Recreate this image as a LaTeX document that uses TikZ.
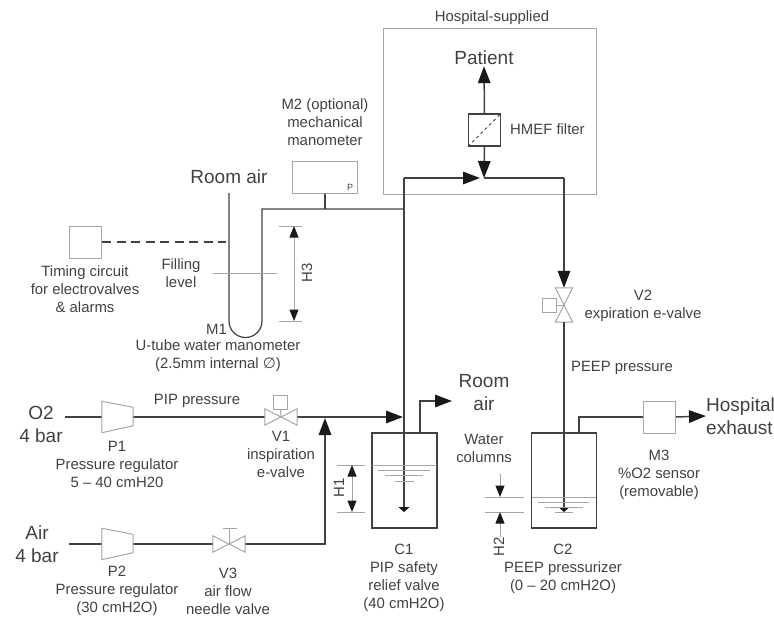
\documentclass[tikz,border=0pt]{standalone}
\usepackage{fontspec}
\usepackage{xcolor}
\usetikzlibrary{arrows.meta, positioning, calc}
\setmainfont{Liberation Sans}
\newfontfamily\symfont{DejaVu Sans}
\definecolor{pipegray}{RGB}{65,65,65}
\definecolor{partgray}{RGB}{165,165,165}
\definecolor{txtgray}{RGB}{65,65,65}
\definecolor{tipgray}{RGB}{25,25,25}

\begin{document}
\begin{tikzpicture}[x=1pt, y=-1pt, >={Stealth[inset=0pt, length=17pt, width=12.5pt, color=tipgray]},
        txt/.style={font=\fontsize{14.9}{18}\selectfont, text=txtgray, align=center, inner sep=1pt},
        bigtxt/.style={font=\fontsize{19}{22.5}\selectfont, text=pipegray, align=center, inner sep=1pt},
        pipe/.style={draw=pipegray, line width=1.5pt},
        thinpipe/.style={draw=pipegray, line width=1.2pt},
        part/.style={draw=partgray, line width=1pt, inner sep=0pt, minimum size=32pt},
        tank/.style={draw=pipegray, line width=1.2pt, inner sep=0pt, minimum width=65pt, minimum height=95pt},
        reg/.style={inner sep=0pt, minimum width=31pt, minimum height=31pt},
        valveh/.style={inner sep=0pt, minimum width=32pt, minimum height=16pt},
        valvev/.style={inner sep=0pt, minimum width=17pt, minimum height=34pt},
        level/.style={draw=partgray, line width=0.8pt},
        dim/.style={draw=partgray, line width=1pt, <->, >={Stealth[inset=0pt, length=11.5pt, width=9pt, color=tipgray]}},
        dimtip/.style={draw=partgray, line width=1pt, ->, >={Stealth[inset=0pt, length=11.5pt, width=9pt, color=tipgray]}},
        tanktip/.style={draw=pipegray, line width=1.2pt, ->, >={Stealth[inset=0pt, length=5pt, width=11pt, color=tipgray]}}]
      \useasboundingbox (0,0) rectangle (774,616);

      % hospital side
      \node[txt] (hosp) at (492,18) {Hospital-supplied};
      \draw[part] (383,28) rectangle (596,194);
      \node[bigtxt] (patient) at (484,58) {Patient};
      \node[part, draw=pipegray, line width=1.2pt] (hmef) at (484.5,130) {};
      \node[txt, anchor=west] (hmeflbl) at (509,129) {HMEF filter};
      \draw[pipegray, line width=1pt, dashed] (hmef.south west) -- (hmef.north east);
      \coordinate (jmeet) at (484,178);
      \coordinate (jleft) at (480,178);
      \coordinate (jtop) at (404,178);
      \coordinate (jright) at (564,178);

      % manometers and timing
      \node[part, minimum width=65pt] (m2) at (325,177) {};
      \node[font=\fontsize{9}{9}\selectfont, text=txtgray, inner sep=0pt] (m2p) at (350,187) {P};
      \node[txt] (m2lbl) at (325,122) {M2 (optional)\\mechanical\\manometer};
      \node[bigtxt] (roomair) at (229,177) {Room air};
      \node[part] (timing) at (85.5,242) {};
      \node[txt] (timinglbl) at (85,289) {Timing circuit\\for electrovalves\\\& alarms};
      \node[txt] (filling) at (181,273) {Filling\\level};
      \node[txt, anchor=east] (m1) at (228,329) {M1};
      \node[txt] (m1lbl) at (218,356) {U-tube water manometer\\(2.5mm internal {\symfont ∅})};
      \coordinate (u1) at (229,193);
      \coordinate (dashend) at (226,242);
      \coordinate (jm2) at (325,209);
      \draw[thinpipe] (u1) -- (229,321) arc[start angle=180, end angle=0, radius=16.5] -- (262,209) -- (jm2) -- (404,209);
      \draw[thinpipe] (m2.south) -- (jm2);
      \draw[thinpipe, dash pattern=on 9pt off 5.5pt] (timing.east) -- (dashend);
      \draw[level] (213,273) -- (277,273);
      \draw[level] (279,226) -- (302,226);
      \draw[level] (279,321) -- (302,321);
      \draw[dim] (294,226) -- (294,321);
      \node[txt, rotate=90] (h3) at (307,273) {H3};

      % gas inputs
      \node[bigtxt] (o2) at (41,424.5) {O2\\4 bar};
      \node[bigtxt] (air) at (37,544) {Air\\4 bar};
      \node[reg] (p1) at (117.5,417) {};
      \node[reg] (p2) at (117.5,544) {};
      \node[valveh] (v1) at (281,417) {};
      \node[valveh] (v3) at (229,544) {};
      \node[part, minimum size=14pt] (v1act) at (280.5,402) {};
      \node[txt] (p1lbl) at (117,464) {P1\\Pressure regulator\\5 -- 40 cmH20};
      \node[txt] (p2lbl) at (117,590.5) {P2\\Pressure regulator\\(30 cmH2O)};
      \node[txt] (v1lbl) at (281,454) {V1\\inspiration\\e-valve};
      \node[txt] (v3lbl) at (228,591) {V3\\air flow\\needle valve};
      \node[txt] (pip) at (197,401) {PIP pressure};
      \coordinate (o2in) at (65,417);
      \coordinate (airin) at (69,544);
      \coordinate (v3cap) at (229,528);
      \coordinate (jup) at (325,418);
      \coordinate (jin) at (403,417);
      \draw[pipe] (o2in) -- (p1.west);
      \draw[pipe] (p1.east) -- (v1.west);
      \draw[pipe, ->] (v1.east) -- (jin);
      \draw[pipe] (airin) -- (p2.west);
      \draw[pipe] (p2.east) -- (v3.west);
      \draw[pipe, ->] (v3.east) -| (jup);
      \foreach \rr in {p1, p2}
        \draw[part] (\rr.north west) -- ($(\rr.north east)+(0,6)$) -- ($(\rr.south east)+(0,-7)$) -- (\rr.south west) -- cycle;
      \foreach \vv in {v1, v3}
        \draw[part] (\vv.south west) -- (\vv.north east) -- (\vv.south east) -- (\vv.north west) -- cycle;
      \draw[part] (v1act.south) -- (v1.center);
      \draw[part] (v3cap) -- (v3.center);
      \draw[part] (223,528) -- (237,528);

      % safety valve
      \node[tank] (c1) at (404.5,480.5) {};
      \node[bigtxt] (roomair2) at (484,392.5) {Room\\air};
      \node[txt] (c1lbl) at (404,578) {C1\\PIP safety\\relief valve\\(40 cmH2O)};
      \coordinate (c1out) at (420,433);
      \coordinate (c1exit) at (452,401);
      \coordinate (c1tip) at (404,512);
      \draw[pipe, ->] (jtop) -- (jleft);
      \draw[pipe, ->] (hmef.south) -- (jmeet);
      \draw[pipe, ->] (hmef.north) -- (patient.south);
      \draw[pipe] (jtop) -- (404,507);
      \draw[tanktip] (404,506) -- (c1tip);
      \draw[pipe, ->] (c1out) |- (c1exit);
      \foreach \yy/\xa/\xb in {465/372/437, 470/378/430, 475/385/423, 481/395/414}
        \draw[level] (\xa,\yy) -- (\xb,\yy);
      \draw[level] (337,465) -- (365,465);
      \draw[level] (337,512) -- (365,512);
      \draw[dim] (352,465) -- (352,512);
      \node[txt, rotate=90] (h1) at (339,488) {H1};

      % expiration side
      \node[valvev] (v2) at (564,305) {};
      \node[part, minimum size=14pt] (v2act) at (549,305) {};
      \node[txt] (v2lbl) at (643,305.5) {V2\\expiration e-valve};
      \node[txt] (peep) at (622,368) {PEEP pressure};
      \node[tank] (c2) at (564,480.5) {};
      \node[txt] (c2lbl) at (563,569) {C2\\PEEP pressurizer\\(0 -- 20 cmH2O)};
      \node[part] (m3) at (659.5,417) {};
      \node[txt] (m3lbl) at (659,475) {M3\\\%O2 sensor\\(removable)};
      \node[bigtxt, anchor=west, align=left, inner sep=0pt] (exhaust) at (706,416) {Hospital\\exhaust};
      \node[txt] (waterlbl) at (484,448) {Water\\columns};
      \coordinate (c2out) at (579,433);
      \coordinate (c2tip) at (564,512);
      \draw[pipe] (jmeet) -- (jright);
      \draw[pipe, ->] (jright) -- (v2.north);
      \draw[part] (v2.north west) -- (v2.north east) -- (v2.south west) -- (v2.south east) -- cycle;
      \draw[part] (v2act.east) -- (v2.center);
      \draw[pipe] (v2.south) -- (564,507);
      \draw[tanktip] (564,506) -- (c2tip);
      \draw[pipe] (c2out) |- (m3.west);
      \draw[pipe, ->] (m3.east) -- (exhaust.west);
      \foreach \yy/\xa/\xb in {497/532/596, 502/538/589, 507/545/583, 512/555/573, 497/485/524, 512/485/524}
        \draw[level] (\xa,\yy) -- (\xb,\yy);
      \draw[dimtip] (500,474) -- (500,497);
      \draw[dimtip] (500,537) -- (500,512);
      \node[txt, rotate=90] (h2) at (499,547) {H2};
    \end{tikzpicture}
\end{document}
